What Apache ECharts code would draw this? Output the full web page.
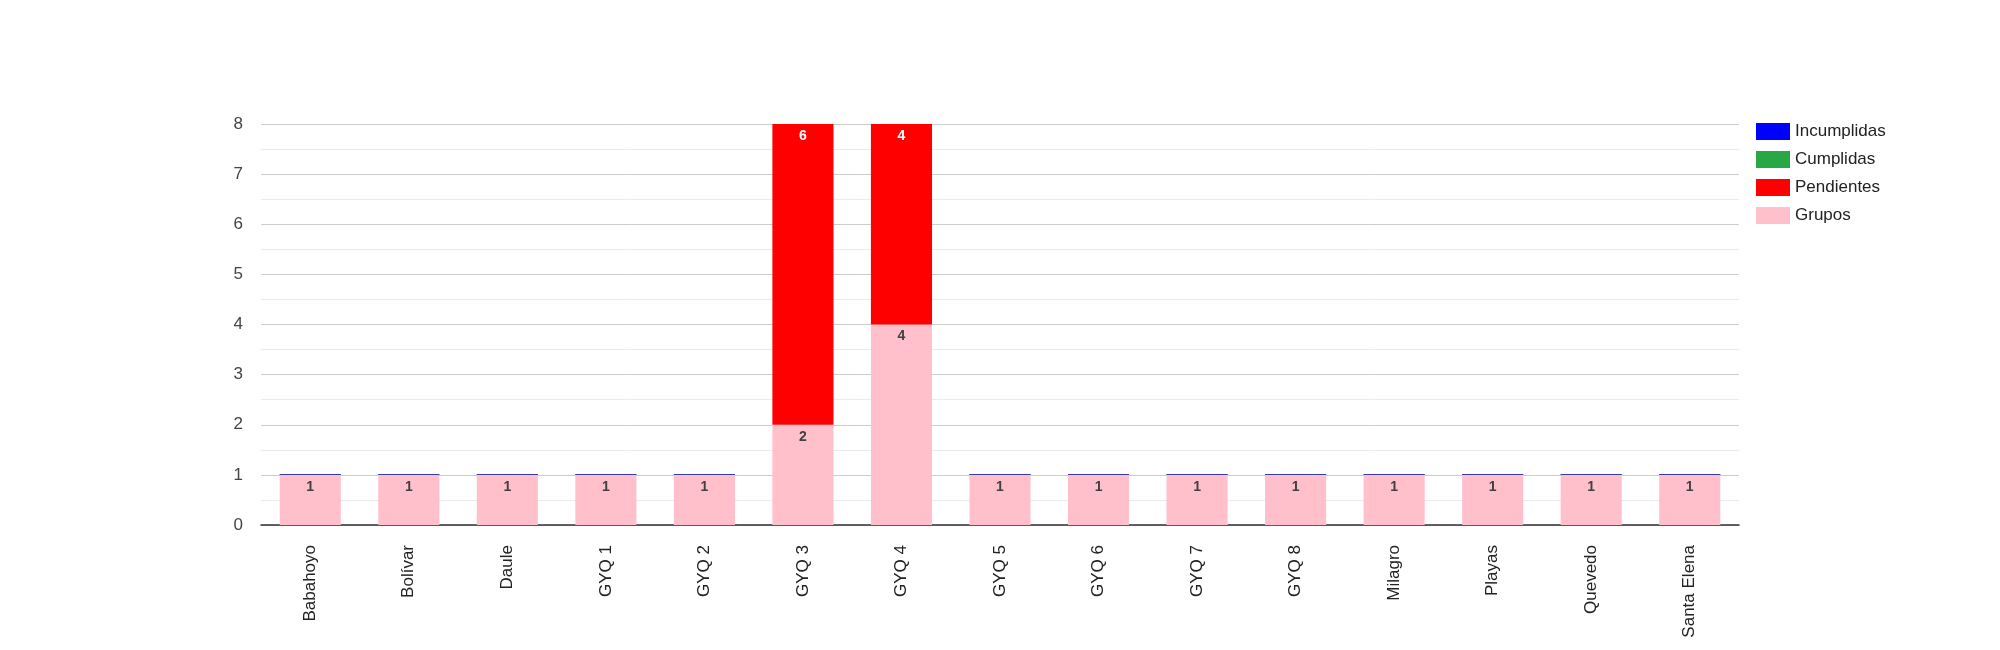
<!DOCTYPE html>
<html>
<head>
<meta charset="utf-8">
<script src="https://cdn.jsdelivr.net/npm/echarts@6/dist/echarts.min.js"></script>
<style>
  html, body { margin: 0; padding: 0; background: #fff; }
  #main { width: 2000px; height: 650px; }
</style>
</head>
<body>
<div id="main"></div>
<script>
var categories = ['Babahoyo', 'Bolívar', 'Daule', 'GYQ 1', 'GYQ 2', 'GYQ 3', 'GYQ 4', 'GYQ 5', 'GYQ 6', 'GYQ 7', 'GYQ 8', 'Milagro', 'Playas', 'Quevedo', 'Santa Elena'];
var grupos      = [1, 1, 1, 1, 1, 2, 4, 1, 1, 1, 1, 1, 1, 1, 1];
var pendientes  = [0, 0, 0, 0, 0, 6, 4, 0, 0, 0, 0, 0, 0, 0, 0];
var cumplidas   = [0, 0, 0, 0, 0, 0, 0, 0, 0, 0, 0, 0, 0, 0, 0];
var incumplidas = [0, 0, 0, 0, 0, 0, 0, 0, 0, 0, 0, 0, 0, 0, 0];

window.onload = function () {
    var myChart = echarts.init(document.getElementById('main'));
    var font = 'Arial, "Liberation Sans", sans-serif';

    function hideZero(p) { return p.value ? String(p.value) : ''; }

    var option = {
        animation: false,
        textStyle: { fontFamily: font },
        legend: {
            orient: 'vertical',
            left: 1756,
            top: 123,
            padding: 0,
            itemWidth: 34,
            itemHeight: 17,
            itemGap: 11,
            icon: 'rect',
            textStyle: { fontSize: 17, color: '#222', fontFamily: font },
            data: [
                { name: 'Incumplidas', itemStyle: { color: '#0000ff' } },
                { name: 'Cumplidas', itemStyle: { color: '#28a745' } },
                { name: 'Pendientes', itemStyle: { color: '#ff0000' } },
                { name: 'Grupos', itemStyle: { color: '#ffc0cb' } }
            ]
        },
        grid: { left: 261, right: 261, top: 124, bottom: 125 },
        xAxis: {
            type: 'category',
            data: categories,
            axisTick: { show: false },
            axisLine: { lineStyle: { color: '#333', width: 1.5 } },
            axisLabel: {
                rotate: 90,
                interval: 0,
                margin: 20,
                fontSize: 17,
                color: '#222',
                fontFamily: font
            }
        },
        yAxis: {
            type: 'value',
            min: 0,
            max: 8,
            interval: 1,
            axisLine: { show: false },
            axisTick: { show: false },
            axisLabel: { fontSize: 17, color: '#444', margin: 18, fontFamily: font },
            splitLine: { lineStyle: { color: '#cccccc' } },
            minorTick: { show: false, splitNumber: 2 },
            minorSplitLine: { show: true, lineStyle: { color: '#ebebeb' } }
        },
        series: [
            {
                name: 'Grupos',
                type: 'bar',
                stack: 'total',
                barCategoryGap: '38%',
                itemStyle: { color: '#ffc0cb' },
                label: {
                    show: true, position: 'insideTop', distance: 5,
                    fontSize: 14, fontWeight: 'bold', color: '#404040',
                    formatter: hideZero
                },
                data: grupos
            },
            {
                name: 'Pendientes',
                type: 'bar',
                stack: 'total',
                itemStyle: { color: '#ff0000' },
                label: {
                    show: true, position: 'insideTop', distance: 5,
                    fontSize: 14, fontWeight: 'bold', color: '#ffffff',
                    formatter: hideZero
                },
                data: pendientes
            },
            {
                name: 'Cumplidas',
                type: 'bar',
                stack: 'total',
                barMinHeight: 1,
                itemStyle: { color: '#28a745' },
                data: cumplidas
            },
            {
                name: 'Incumplidas',
                type: 'bar',
                stack: 'total',
                barMinHeight: 1,
                itemStyle: { color: '#3a3aa0' },
                data: incumplidas
            }
        ]
    };
    myChart.setOption(option);
};
</script>
</body>
</html>
